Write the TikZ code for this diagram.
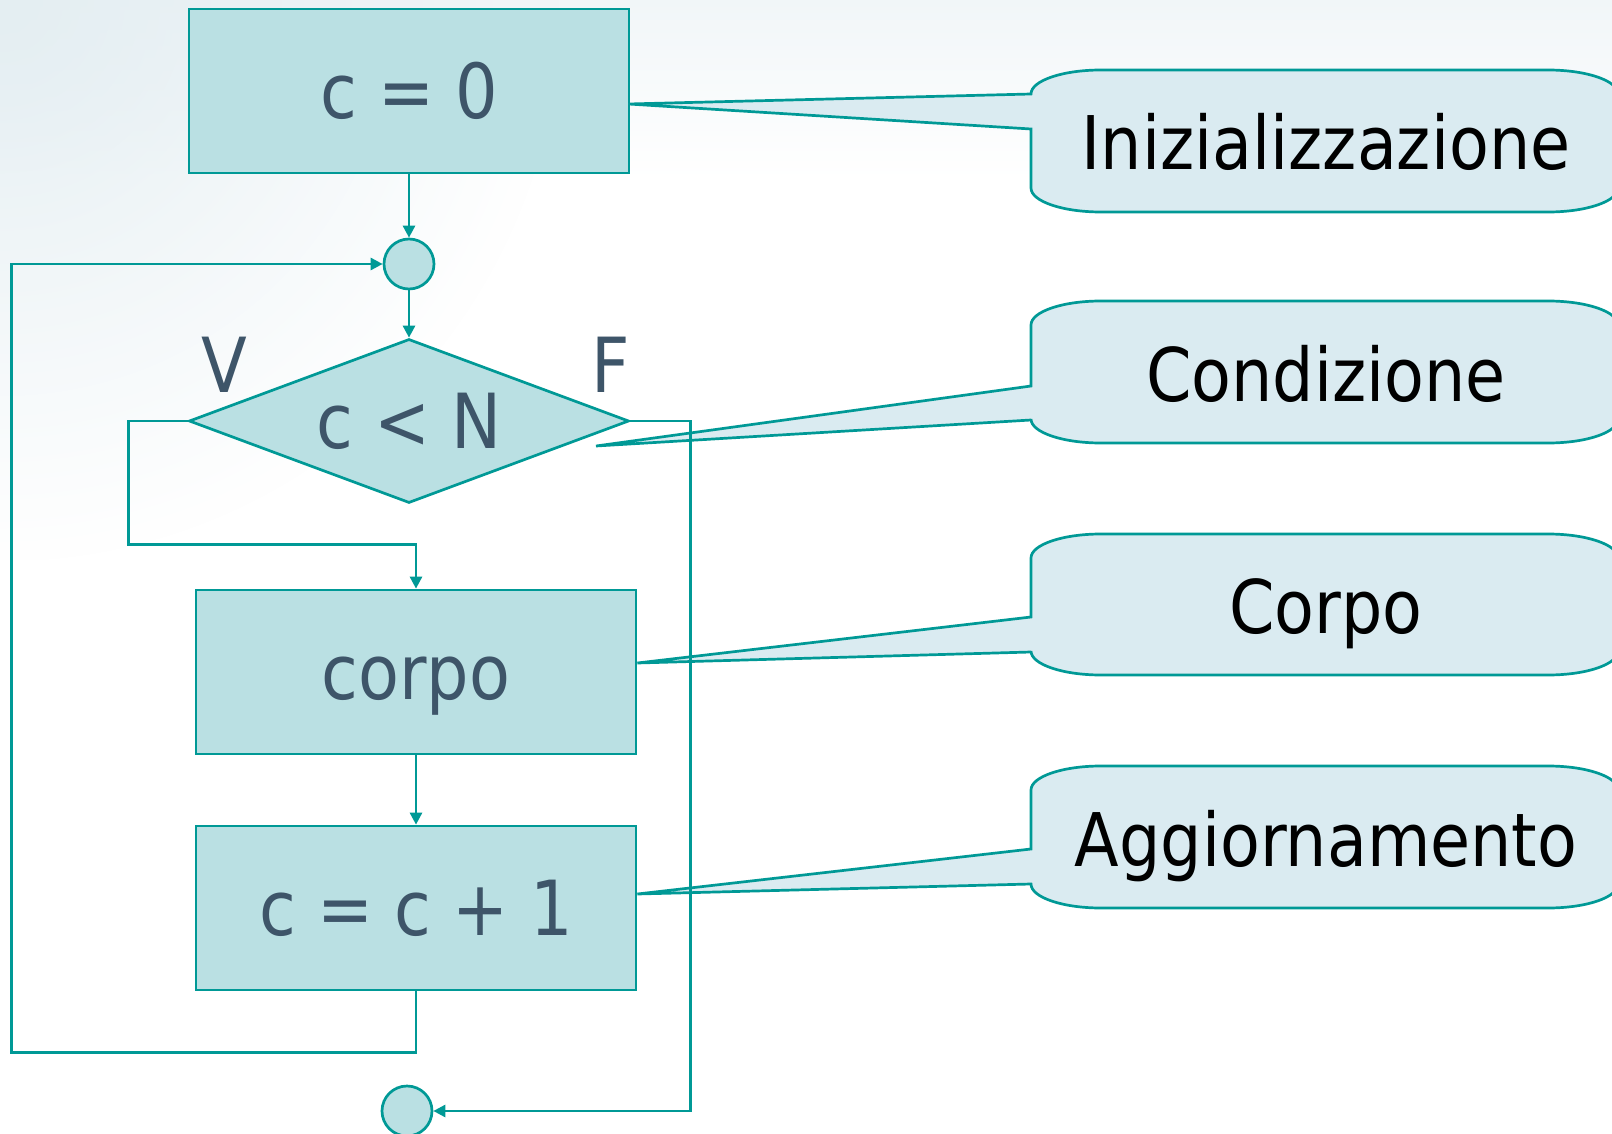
\documentclass[tikz,border=0pt]{standalone}
\usepackage{fontspec}
\newfontfamily\flowfont{DejaVu Sans}[FakeStretch=0.88]
\usetikzlibrary{shapes.geometric,arrows.meta,calc,fadings}

\definecolor{flowline}{RGB}{0,153,150}
\definecolor{boxfill}{RGB}{186,224,227}
\definecolor{bubblefill}{RGB}{218,235,241}
\definecolor{flowink}{RGB}{62,85,105}
\definecolor{haze}{RGB}{228,238,242}
\definecolor{lighthaze}{RGB}{241,246,248}

\tikzfading[name=cornerglow,inner color=transparent!0,outer color=transparent!100]

% rounded speech bubble: left x, top y, right x, bottom y,
% pointer base top y, pointer base bottom y, pointer tip
\newcommand{\bubble}[7]{%
  \path[bubbleshape]
    (#1,#2+24) .. controls (#1,#2+10.7) and (#1+31.3,#2) .. (#1+70,#2)
    -- (#3-70,#2) .. controls (#3-31.3,#2) and (#3,#2+10.7) .. (#3,#2+24)
    -- (#3,#4-24) .. controls (#3,#4-10.7) and (#3-31.3,#4) .. (#3-70,#4)
    -- (#1+70,#4) .. controls (#1+31.3,#4) and (#1,#4-10.7) .. (#1,#4-24)
    -- (#1,#6) -- #7 -- (#1,#5) -- cycle;
}

\begin{document}
\begin{tikzpicture}[x=1pt,y=-1pt,
  every node/.style={font=\flowfont\fontsize{76}{80}\selectfont},
  box/.style={rectangle,draw=flowline,fill=boxfill,line width=2.7pt,
    minimum width=440pt,minimum height=164pt,inner sep=0pt,
    text=flowink,text height=55pt,text depth=0pt},
  test/.style={diamond,draw=flowline,fill=boxfill,line width=2.7pt,
    shape aspect=2.68,minimum width=440pt,minimum height=164pt,inner sep=0pt,
    text=flowink,text height=55pt,text depth=0pt},
  joint/.style={circle,draw=flowline,fill=boxfill,line width=2.7pt,
    minimum size=50pt,inner sep=0pt},
  flow/.style={draw=flowline,line width=2.7pt,
    -{Triangle[length=12pt,width=12pt]}},
  branch/.style={text=flowink,anchor=base,inner sep=0pt},
  bubbleshape/.style={draw=flowline,fill=bubblefill,line width=2.7pt,line join=miter},
  bubbletext/.style={font=\flowfont\fontsize{74}{80}\selectfont,text=black,
    text height=58pt,text depth=0pt,inner sep=0pt}
]
\useasboundingbox (0,0) rectangle (1612,1134);
\clip (0,0) rectangle (1612,1134);

% soft backdrop, strongest in the upper left corner
\fill[white] (0,0) rectangle (1612,1134);
\shade[top color=lighthaze,bottom color=white] (0,0) rectangle (1612,180);
\fill[haze,path fading=cornerglow] (-560,-560) rectangle (560,560);

% flowchart blocks
\node[box]   (init) at (409,91)   {c = 0};
\node[joint] (j1)   at (409,264)  {};
\node[test]  (cond) at (409,421)  {c < N};
\node[box]   (body) at (416,672)  {corpo};
\node[box]   (incr) at (416,908)  {c = c + 1};
\node[joint] (j2)   at (407,1111) {};

\node[branch] (vlab) at (224,392) {V};
\node[branch] (flab) at (611,392) {F};

% pointer tips of the bubbles
\coordinate (tinit) at ($(init.east)+(-2,13)$);
\coordinate (tcond) at (596,446);
\coordinate (tbody) at ($(body.east)+(0,-9)$);
\coordinate (tincr) at ($(incr.east)+(0,-14)$);

% explanatory bubbles
\bubble{1031}{70}{1618}{212}{94}{129}{(tinit)}
\bubble{1031}{301}{1618}{443}{386}{420}{(tcond)}
\bubble{1031}{534}{1618}{675}{617}{652}{(tbody)}
\bubble{1031}{766}{1618}{908}{849}{884}{(tincr)}

\node[bubbletext] (linit) at (1326,141)   {Inizializzazione};
\node[bubbletext] (lcond) at (1326,372)   {Condizione};
\node[bubbletext] (lbody) at (1326,604.5) {Corpo};
\node[bubbletext] (lincr) at (1326,837)   {Aggiornamento};

% connectors
\draw[flow] (init) -- (j1);
\draw[flow] (j1) -- (cond);
\draw[flow] (cond.west) -- ++(-59,0) |- ($(body.north)+(0,-44)$) -- (body.north);
\draw[flow] (body) -- (incr);
\draw[flow] (incr.south) -- ++(0,61) -| ($(j1.west)+(-371,0)$) -- (j1.west);
\draw[flow] (cond.east) -- ++(60,0) |- (j2.east);
\end{tikzpicture}
\end{document}
